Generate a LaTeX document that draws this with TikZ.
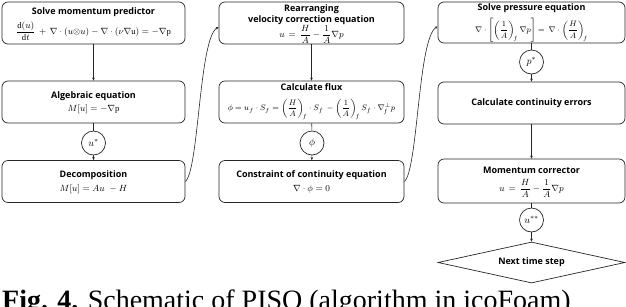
\documentclass[tikz,border=0pt]{standalone}
\usepackage{amsmath}
\usepackage{fontspec}
\setmainfont{Liberation Serif}
\newfontfamily\titlefont{Open Sans}
\usetikzlibrary{shapes.geometric,arrows.meta}
\tikzset{
  box/.style={draw=black!85, line width=0.7pt, rounded corners=6pt, inner sep=0pt},
  ttl/.style={inner sep=0pt, align=center, font=\titlefont\bfseries\fontsize{9}{10.5}\selectfont},
  eqn/.style={inner sep=0pt, font=\fontsize{8.6}{10}\selectfont},
  circ/.style={draw=black!85, line width=0.7pt, circle, minimum size=24pt, inner sep=0pt, font=\fontsize{10}{10}\selectfont},
  dia/.style={draw=black!85, line width=0.7pt, diamond, aspect=4.5, inner sep=0pt, minimum width=187pt, minimum height=41pt, font=\titlefont\bfseries\fontsize{9}{10}\selectfont},
  conn/.style={draw=black!85, line width=0.6pt},
  arr/.style={conn, -{Stealth[length=3pt,width=2.6pt]}},
}
\begin{document}
\begin{tikzpicture}[x=1pt,y=-1pt]
\useasboundingbox (0,0) rectangle (626,306);
\clip (0,0) rectangle (626,306);
% left column
\node[box, minimum width=183pt, minimum height=42pt] (L1) at (93.5,23) {};
\node[ttl] (L1t) at (93.5,12.5) {Solve momentum predictor};
\node[eqn] (L1e) at (93.5,31.5) {$\dfrac{\mathrm{d}(u)}{\mathrm{d}t}\,+\,\nabla\cdot(u{\otimes}u)-\nabla\cdot(\nu\nabla\mathrm{u})=-\nabla\mathrm{p}$};
\node[box, minimum width=183pt, minimum height=42pt] (L2) at (93.5,102) {};
\node[ttl] (L2t) at (93.5,96.5) {Algebraic equation};
\node[eqn] (L2e) at (93.5,109.5) {$M[u]=-\nabla\mathrm{p}$};
\node[circ] (us) at (93.5,143) {$u^{*}$};
\node[box, minimum width=183pt, minimum height=42pt] (L3) at (93.5,181.5) {};
\node[ttl] (L3t) at (93.5,175.5) {Decomposition};
\node[eqn] (L3e) at (93.5,189) {$M[u]=Au\,\,-H$};
% middle column
\node[box, minimum width=185pt, minimum height=42pt] (M1) at (311.5,23) {};
\node[ttl] (M1t) at (311.5,14.5) {Rearranging\\velocity correction equation};
\node[eqn] (M1e) at (311.5,34.5) {$u\,=\,\dfrac{H}{A}-\dfrac{1}{A}\nabla p$};
\node[box, minimum width=185pt, minimum height=42pt] (M2) at (311.5,102) {};
\node[ttl] (M2t) at (311.5,87.5) {Calculate flux};
\node[eqn, font=\fontsize{8.3}{10}\selectfont] (M2e) at (311.5,109.5) {$\phi=u_f\cdot S_f=\left(\dfrac{H}{A}\right)_{\!f}\cdot S_f\,-\left(\dfrac{1}{A}\right)_{\!f}S_f\cdot\nabla_{\!f}^{\perp}p$};
\node[circ] (ph) at (312,143) {$\phi$};
\node[box, minimum width=185pt, minimum height=42pt] (M3) at (311.5,181.5) {};
\node[ttl] (M3t) at (311.5,175.5) {Constraint of continuity equation};
\node[eqn] (M3e) at (311.5,189) {$\nabla\cdot\phi=0$};
% right column
\node[box, minimum width=187pt, minimum height=41pt] (R1) at (531.5,22.5) {};
\node[ttl] (R1t) at (531.5,8) {Solve pressure equation};
\node[eqn, font=\fontsize{8.3}{10}\selectfont] (R1e) at (531.5,30.5) {$\nabla\cdot\left[\left(\dfrac{1}{A}\right)_{\!f}\nabla p\right]=\,\nabla\cdot\left(\dfrac{H}{A}\right)_{\!f}$};
\node[circ] (ps) at (531.5,62) {$p^{*}$};
\node[box, minimum width=187pt, minimum height=42pt] (R2) at (531.5,103) {};
\node[ttl] (R2t) at (531.5,103) {Calculate continuity errors};
\node[box, minimum width=187pt, minimum height=44pt] (R3) at (531.5,181) {};
\node[ttl] (R3t) at (531.5,170.5) {Momentum corrector};
\node[eqn] (R3e) at (531.5,188.5) {$u\,=\,\dfrac{H}{A}-\dfrac{1}{A}\nabla p$};
\node[circ] (uss) at (531.5,220) {$u^{**}$};
\node[dia] (D) at (531.5,262.5) {Next time step};
% connectors
\draw[arr] (L1) -- (L2);
\draw[conn] (L2) -- (us);
\draw[arr] (us) -- (L3);
\draw[arr] (M1) -- (M2);
\draw[conn] (M2) -- (ph);
\draw[arr] (ph) -- (M3);
\draw[conn] (R1) -- (ps);
\draw[arr] (ps) -- (R2);
\draw[arr] (R2) -- (R3);
\draw[conn] (R3) -- (uss);
\draw[arr] (uss) -- (D);
\draw[arr] (L3.east) .. controls (199,170) and (199,38) .. ([yshift=-4pt]M1.west);
\draw[arr] (M3.east) .. controls (418,170) and (418,38) .. ([yshift=-4pt]R1.west);
% caption
\node[anchor=base west, inner sep=0pt, font=\fontsize{28}{30}\selectfont] (cap) at (2,309) {\textbf{Fig. 4.} Schematic of PISO (algorithm in icoFoam)};
\end{tikzpicture}
\end{document}
